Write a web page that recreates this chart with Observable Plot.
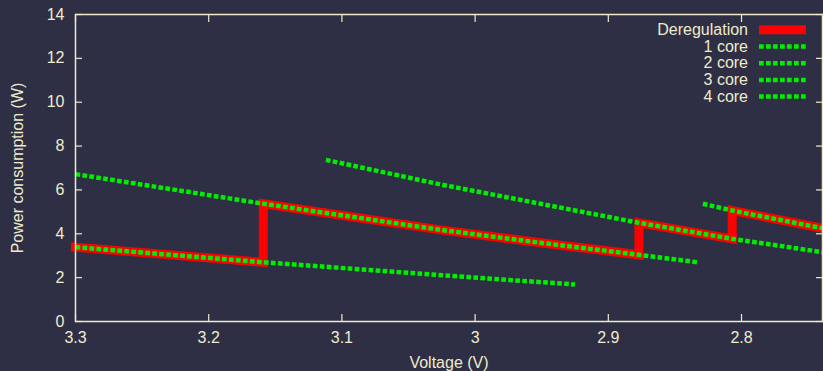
<!DOCTYPE html>
<html>
<head>
<meta charset="utf-8">
<script src="https://cdn.jsdelivr.net/npm/d3@7"></script>
<script src="https://cdn.jsdelivr.net/npm/@observablehq/plot@0.6"></script>
<style>
  html, body { margin: 0; padding: 0; background: #2e2f44; }
  #chart { width: 823px; height: 371px; overflow: hidden; }
</style>
</head>
<body>
<div id="chart"></div>
<script>
// ---- data (voltage in V, power in W) ----
const core1Voltage = [3.30, 3.159, 2.981, 2.925];
const core1Power   = [3.39, 2.70, 1.92, 1.69];

const core2Voltage = [3.30, 3.159, 3.026, 2.951, 2.877, 2.833];
const core2Power   = [6.72, 5.37, 4.18, 3.59, 3.04, 2.70];

const core3Voltage = [3.112, 3.026, 2.951, 2.877, 2.807, 2.739];
const core3Power   = [7.37, 6.25, 5.37, 4.50, 3.77, 3.16];

const core4Voltage = [2.829, 2.807, 2.739];
const core4Power   = [5.37, 5.06, 4.25];

const deregVoltage = [3.30, 3.159, 3.159, 3.026, 2.951, 2.877, 2.877, 2.807, 2.807, 2.739];
const deregPower   = [3.39, 2.70, 5.37, 4.18, 3.59, 3.04, 4.50, 3.77, 5.06, 4.25];

const xTicks = [3.3, 3.2, 3.1, 3, 2.9, 2.8];
const yTicks = [0, 2, 4, 6, 8, 10, 12, 14];
const legendLabels = ["Deregulation", "1 core", "2 core", "3 core", "4 core"];
const xLabel = "Voltage (V)";
const yLabel = "Power consumption (W)";

// ---- styles ----
const BG = "#2e2f44";
const FG = "#eeebcc";
const RED = "#ff0000";
const GREEN = "#00ee00";
const DASH = "4.7,2.3";

const toRows = (V, P) => V.map((v, i) => ({v, p: P[i]}));
const dereg = toRows(deregVoltage, deregPower);
const cores = [
  toRows(core1Voltage, core1Power),
  toRows(core2Voltage, core2Power),
  toRows(core3Voltage, core3Power),
  toRows(core4Voltage, core4Power)
];

const greenLine = (rows) => Plot.line(rows, {
  x: "v", y: "p", stroke: GREEN, strokeWidth: 4.5,
  strokeDasharray: DASH, strokeLinecap: "butt"
});

const chart = Plot.plot({
  width: 823,
  height: 371,
  marginLeft: 75,
  marginRight: 1,
  marginTop: 14,
  marginBottom: 50,
  x: {type: "linear", domain: [3.3, 2.7392]},
  y: {type: "linear", domain: [0, 14]},
  style: {
    background: BG,
    color: FG,
    fontFamily: "'Liberation Sans', Arial, sans-serif",
    fontSize: "16px",
    overflow: "hidden"
  },
  marks: [
    Plot.line(dereg, {
      x: "v", y: "p", stroke: RED, strokeWidth: 9,
      strokeLinejoin: "miter", strokeMiterlimit: 10, strokeLinecap: "square"
    }),
    ...cores.map(greenLine),
    Plot.frame({stroke: FG, strokeWidth: 1.5}),
    // inward ticks on all four sides
    Plot.axisX(xTicks, {anchor: "bottom", tickSize: -7, tickFormat: () => "", label: null, strokeWidth: 1.2}),
    Plot.axisX(xTicks, {anchor: "top", tickSize: -7, tickFormat: () => "", label: null, strokeWidth: 1.2}),
    Plot.axisY(yTicks, {anchor: "left", tickSize: -7, tickFormat: () => "", label: null, strokeWidth: 1.2}),
    Plot.axisY(yTicks, {anchor: "right", tickSize: -7, tickFormat: () => "", label: null, strokeWidth: 1.2}),
    // tick labels
    Plot.axisX(xTicks, {anchor: "bottom", tickSize: 0, tickPadding: 10, tickFormat: d => String(d), label: null}),
    Plot.axisY(yTicks, {anchor: "left", tickSize: 0, tickPadding: 11, tickFormat: d => String(d), label: null}),
    // axis titles
    Plot.text([xLabel], {text: d => d, frameAnchor: "bottom", dy: 41.7, textAnchor: "middle", lineAnchor: "middle", fill: FG}),
    Plot.text([yLabel], {text: d => d, frameAnchor: "left", dx: -58, rotate: -90, textAnchor: "middle", lineAnchor: "middle", fill: FG})
  ]
});

document.getElementById("chart").append(chart);

// ---- legend (top right, inside the frame) ----
const svg = d3.select(chart);
const lg = svg.append("g")
  .attr("font-family", "'Liberation Sans', Arial, sans-serif")
  .attr("font-size", 16);
legendLabels.forEach((label, i) => {
  const cy = 29.8 + i * 16.7;
  lg.append("text")
    .attr("x", 748).attr("y", cy).attr("dy", "0.32em")
    .attr("text-anchor", "end").attr("fill", FG)
    .text(label);
  const ln = lg.append("line")
    .attr("x1", 759).attr("x2", 806).attr("y1", cy).attr("y2", cy);
  if (i === 0) {
    ln.attr("stroke", RED).attr("stroke-width", 9);
  } else {
    ln.attr("stroke", GREEN).attr("stroke-width", 4.5).attr("stroke-dasharray", DASH);
  }
});
</script>
</body>
</html>
